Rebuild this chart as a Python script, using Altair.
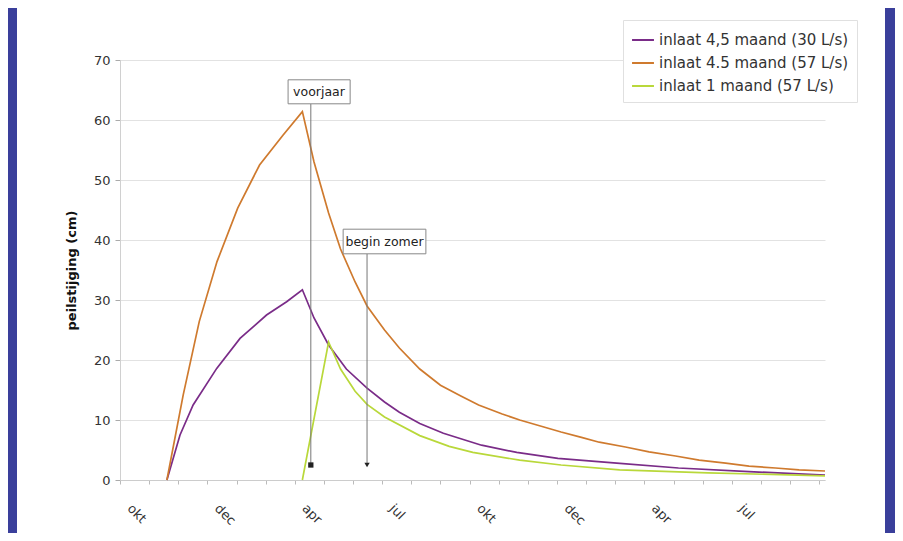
import json
import altair as alt
import pandas as pd

# ---------------- data ----------------
series_names = ["inlaat 4,5 maand (30 L/s)", "inlaat 4.5 maand (57 L/s)", "inlaat 1 maand (57 L/s)"]
series_colors = ["#7a2c88", "#cf7a2e", "#b9d83a"]

# time in months since the first "okt" tick
t_30 = [1.61, 2.06, 2.51, 3.32, 4.12, 5.03, 5.72, 6.26, 6.66, 7.16, 7.77, 8.48, 9.08, 9.59,
        10.29, 11.1, 12.41, 13.62, 15.03, 17.05, 19.17, 21.59, 24.2]
v_30 = [0, 7.5, 12.5, 18.6, 23.6, 27.5, 29.7, 31.7, 27.0, 22.5, 18.5, 15.3, 13.0, 11.3,
        9.4, 7.8, 5.8, 4.6, 3.6, 2.8, 2.0, 1.4, 0.8]

t_57 = [1.61, 2.17, 2.72, 3.33, 4.04, 4.79, 5.6, 6.26, 6.66, 7.16, 7.57, 8.07, 8.48, 9.08,
        9.59, 10.29, 11.0, 11.7, 12.31, 13.12, 13.72, 14.43, 15.14, 15.84, 16.45, 17.35,
        18.16, 19.07, 19.88, 20.79, 21.59, 22.5, 23.31, 24.2]
v_57 = [0, 14.2, 26.4, 36.4, 45.3, 52.5, 57.5, 61.4, 53.0, 44.5, 38.5, 33.0, 29.0, 25.0,
        22.0, 18.5, 15.8, 14.0, 12.5, 11.0, 10.0, 9.0, 8.0, 7.1, 6.3, 5.5,
        4.7, 4.0, 3.3, 2.8, 2.3, 2.0, 1.7, 1.5]

t_1m = [6.26, 7.16, 7.57, 8.07, 8.48, 9.08, 10.29, 11.3, 12.11, 13.72, 15.14, 17.15, 20.18, 24.2]
v_1m = [0, 23.0, 18.5, 14.8, 12.6, 10.5, 7.4, 5.6, 4.6, 3.3, 2.5, 1.7, 1.2, 0.7]

month_labels = ["okt", "dec", "apr", "jul", "okt", "dec", "apr", "jul"]

ann_labels = ["voorjaar", "begin zomer"]
ann_line_t = [6.55, 8.48]
ann_line_top = [62.7, 37.7]
ann_line_bottom = [2.5, 2.5]
ann_box_t1 = [5.77, 7.66]
ann_box_t2 = [7.9, 10.5]
ann_box_y1 = [62.7, 37.7]
ann_box_y2 = [66.7, 41.8]
ann_text_t = [6.83, 9.08]
ann_text_y = [64.7, 39.75]
ann_end_shape = ["square", "triangle-down"]

# ---------------- tables ----------------
rows = []
for name, ts, vs in zip(series_names, [t_30, t_57, t_1m], [v_30, v_57, v_1m]):
    for i, (t, v) in enumerate(zip(ts, vs)):
        rows.append({"serie": name, "t": t, "v": v, "o": i})
lines_df = pd.DataFrame(rows)

ann_df = pd.DataFrame({
    "label": ann_labels, "lt": ann_line_t, "ltop": ann_line_top, "lbot": ann_line_bottom,
    "bx1": ann_box_t1, "bx2": ann_box_t2, "by1": ann_box_y1, "by2": ann_box_y2,
    "tx": ann_text_t, "ty": ann_text_y, "shape": ann_end_shape,
})

FONT = "DejaVu Sans"
W, H = 705, 420
PAD = {"left": 112, "top": 52, "right": 70, "bottom": 53}

xscale = alt.Scale(domain=[0, 24.2], nice=False, zero=False)
yscale = alt.Scale(domain=[0, 70], nice=False)

label_expr = ("datum.value % 3 == 0 ? " + json.dumps(month_labels) +
              "[floor(datum.value / 3)] : ''")

x_axis = alt.Axis(values=list(range(0, 25)), labelExpr=label_expr, labelAngle=45,
                  labelAlign="left", labelBaseline="middle", labelPadding=22,
                  labelOffset=9, labelFont=FONT, labelFontSize=13, labelColor="#333",
                  tickSize=4, tickColor="#bbbbbb", domainColor="#cccccc", grid=False,
                  title=None, labelOverlap=False, labelBound=False, labelFlush=False)
y_axis = alt.Axis(values=list(range(0, 71, 10)), labelFont=FONT, labelFontSize=13,
                  labelColor="#333", tickSize=5, tickColor="#aaaaaa", domainColor="#d0d0d0",
                  gridColor="#e2e2e2", labelPadding=5,
                  title="peilstijging (cm)", titleFont=FONT, titleFontSize=13,
                  titleFontWeight="bold", titleColor="#111", titlePadding=15)

one = pd.DataFrame({"a": [0]})

# frame bands (decoration)
left_band = alt.Chart(one).mark_rect(color="#3a3f9b").encode(
    x=alt.value(-112), x2=alt.value(-103), y=alt.value(-52), y2=alt.value(473))
right_band = alt.Chart(one).mark_rect(color="#3a3f9b").encode(
    x=alt.value(765), x2=alt.value(775), y=alt.value(-52), y2=alt.value(473))

lines = alt.Chart(lines_df).mark_line(strokeWidth=1.7).encode(
    x=alt.X("t:Q", scale=xscale, axis=x_axis),
    y=alt.Y("v:Q", scale=yscale, axis=y_axis),
    color=alt.Color("serie:N", scale=alt.Scale(domain=series_names, range=series_colors),
                    legend=alt.Legend(title=None, orient="none", legendX=503, legendY=-40,
                                      symbolType="stroke", symbolSize=480,
                                      symbolStrokeWidth=2, labelFont=FONT,
                                      labelFontSize=15, labelColor="#333", labelLimit=400,
                                      rowPadding=3, padding=8, labelOffset=4,
                                      strokeColor="#e0e0e0", fillColor="white")),
    order="o:Q",
)

rules = alt.Chart(ann_df).mark_rule(color="#777777", strokeWidth=1).encode(
    x=alt.X("lt:Q", scale=xscale, axis=x_axis), y=alt.Y("ltop:Q", scale=yscale, axis=y_axis),
    y2="lbot:Q")

ends = alt.Chart(ann_df).mark_point(filled=True, color="#222222", size=28, opacity=1).encode(
    x=alt.X("lt:Q", scale=xscale, axis=x_axis), y=alt.Y("lbot:Q", scale=yscale, axis=y_axis),
    shape=alt.Shape("shape:N", scale=None))

boxes = alt.Chart(ann_df).mark_rect(fill="white", stroke="#888888", strokeWidth=1).encode(
    x=alt.X("bx1:Q", scale=xscale, axis=x_axis), x2="bx2:Q",
    y=alt.Y("by1:Q", scale=yscale, axis=y_axis), y2="by2:Q")

texts = alt.Chart(ann_df).mark_text(font=FONT, fontSize=12.5, color="#222").encode(
    x=alt.X("tx:Q", scale=xscale, axis=x_axis), y=alt.Y("ty:Q", scale=yscale, axis=y_axis),
    text="label:N")

chart = alt.layer(left_band, right_band, lines, rules, ends, boxes, texts).properties(
    width=W, height=H, padding=PAD, autosize=alt.AutoSizeParams(type="none"),
    background="white",
).configure_view(stroke=None).configure_axisX(labelOverlap=False)

chart.save("out.html", embed_options={"renderer": "svg", "actions": False})
